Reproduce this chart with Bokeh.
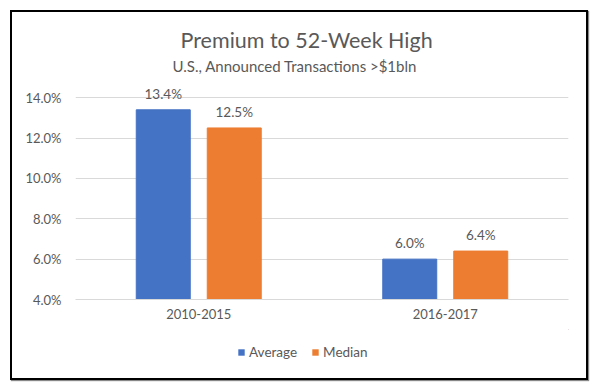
from bokeh.plotting import figure
from bokeh.layouts import column
from bokeh.models import (ColumnDataSource, FactorRange, Range1d, Title, Legend,
                          LegendItem, FixedTicker, PrintfTickFormatter)
from bokeh.transform import dodge
from bokeh.core.properties import value
from bokeh.embed import file_html
from bokeh.resources import INLINE

# ---- data ----
periods = ["2010-2015", "2016-2017"]
average = [13.4, 6.0]
median = [12.5, 6.4]
series_names = ["Average", "Median"]
y_ticks = [4, 6, 8, 10, 12, 14]
title_text = "Premium to 52-Week High"
subtitle_text = "U.S., Announced Transactions >$1bln"

FONT = "Lato"
GRAY = "#595959"
BLUE = "#4472C4"
ORANGE = "#ED7D31"

src = ColumnDataSource(dict(
    period=periods,
    average=average,
    median=median,
    avg_lbl=[f"{v:.1f}%" for v in average],
    med_lbl=[f"{v:.1f}%" for v in median],
))

p = figure(
    x_range=FactorRange(*periods),
    y_range=Range1d(4, 15.05),
    frame_width=493, frame_height=223,
    output_backend="svg", toolbar_location=None,
    min_border_left=63, min_border_right=18,
    min_border_top=64, min_border_bottom=30,
    outline_line_color=None,
)

BW = 0.219
OFF = 0.144
r1 = p.vbar(x=dodge("period", -OFF, range=p.x_range), top="average", bottom=4,
            width=BW, source=src, fill_color=BLUE, line_color=BLUE)
r2 = p.vbar(x=dodge("period", OFF, range=p.x_range), top="median", bottom=4,
            width=BW, source=src, fill_color=ORANGE, line_color=ORANGE)

p.text(x=dodge("period", -OFF, range=p.x_range), y="average", text="avg_lbl",
       source=src, text_align="center", text_baseline="alphabetic", y_offset=-16,
       text_font=value(FONT), text_font_size="13.5px", text_color=GRAY)
p.text(x=dodge("period", OFF, range=p.x_range), y="median", text="med_lbl",
       source=src, text_align="center", text_baseline="alphabetic", y_offset=-16,
       text_font=value(FONT), text_font_size="13.5px", text_color=GRAY)

# axes
p.yaxis.ticker = FixedTicker(ticks=y_ticks)
p.yaxis.formatter = PrintfTickFormatter(format="%.1f%%")
p.yaxis.axis_line_color = None
p.yaxis.major_tick_line_color = None
p.yaxis.minor_tick_line_color = None
p.yaxis.major_label_standoff = 8
p.yaxis.major_label_text_font = FONT
p.yaxis.major_label_text_font_size = "13px"
p.yaxis.major_label_text_color = GRAY

p.xaxis.axis_line_color = "#d9d9d9"
p.xaxis.major_tick_line_color = None
p.xaxis.minor_tick_line_color = None
p.xaxis.major_label_standoff = 3
p.xaxis.major_label_text_font = FONT
p.xaxis.major_label_text_font_size = "13px"
p.xaxis.major_label_text_color = GRAY

p.xgrid.grid_line_color = None
p.ygrid.grid_line_color = "#d9d9d9"
p.ygrid.ticker = FixedTicker(ticks=y_ticks)

# titles
p.title.text = title_text
p.title.align = "left"
p.title.offset = 105
p.title.text_font = FONT
p.title.text_font_size = "21.5px"
p.title.text_font_style = "normal"
p.title.text_color = GRAY
p.title.standoff = 0
p.add_layout(Title(text=subtitle_text, align="left", offset=97, text_font=FONT,
                   text_font_size="15px", text_font_style="normal",
                   text_color=GRAY, standoff=4), "above")

# legend strip below the axis (proxy renderers lie outside the strip's ranges)
leg_fig = figure(width=574, height=49, x_range=Range1d(0, 1), y_range=Range1d(0, 1),
                 x_axis_type=None, y_axis_type=None,
                 output_backend="svg", toolbar_location=None,
                 min_border_left=0, min_border_right=0,
                 min_border_top=0, min_border_bottom=0,
                 outline_line_color=None)
leg_fig.title.visible = False
leg_fig.grid.visible = False
g1 = leg_fig.vbar(x="average", top="average", bottom="median", width=0.1,
                  source=src, fill_color=BLUE, line_color=None)
g2 = leg_fig.vbar(x="median", top="median", bottom="average", width=0.1,
                  source=src, fill_color=ORANGE, line_color=None)
legend = Legend(items=[LegendItem(label=series_names[0], renderers=[g1]),
                       LegendItem(label=series_names[1], renderers=[g2])],
                orientation="horizontal", location=(162, 18),
                border_line_color=None, background_fill_alpha=0,
                label_text_font=FONT, label_text_font_size="13.5px",
                label_text_color=GRAY, glyph_width=8, glyph_height=8,
                label_standoff=4, spacing=14, padding=0, margin=0)
leg_fig.add_layout(legend, "center")

layout = column(p, leg_fig, spacing=0,
                styles={"border": "2px solid #000", "margin": "10px 0 0 10px",
                        "box-shadow": "1px 1px 1px #888"})

open("out.html", "w").write(file_html(layout, INLINE))
